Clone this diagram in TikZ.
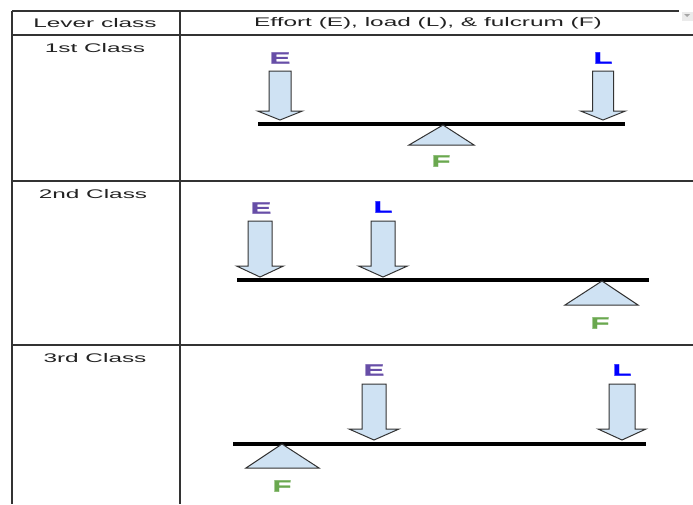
\documentclass[tikz,border=0pt]{standalone}
\usepackage{fontspec}
\newfontfamily\hdrfont{Liberation Sans}[FakeStretch=1.95]
\newfontfamily\lblfont{Liberation Sans}[FakeStretch=1.9,FakeBold=1.5]
\definecolor{effortc}{HTML}{674EA7}
\definecolor{loadc}{HTML}{0000FF}
\definecolor{fulcc}{HTML}{6AA84F}
\definecolor{armfill}{HTML}{CFE2F3}
\definecolor{gridc}{HTML}{333333}
\definecolor{txtc}{HTML}{222222}
\newcommand\levarrow[6]{% x, top, headstart, tip, shaft half, head half
  \draw[forcearrow] ({#1-#5},#2) -- ({#1+#5},#2) -- ({#1+#5},#3) -- ({#1+#6},#3)
    -- (#1,#4) -- ({#1-#6},#3) -- ({#1-#5},#3) -- cycle;}
\begin{document}
\begin{tikzpicture}[x=1pt,y=-1pt,
  gridline/.style={draw=gridc,line width=1.5pt},
  leverbar/.style={draw=black,line width=3.2pt},
  forcearrow/.style={draw=gridc,line width=1pt,fill=armfill,line join=miter},
  fulcrum/.style={draw=gridc,line width=1pt,fill=armfill},
  hdr/.style={inner sep=0pt,text=txtc,font=\hdrfont\fontsize{12.5}{14}\selectfont},
  lbl/.style={inner sep=0pt,font=\lblfont\bfseries\fontsize{16.5}{18}\selectfont},
  elbl/.style={lbl,text=effortc},
  llbl/.style={lbl,text=loadc},
  flbl/.style={lbl,text=fulcc}]
\useasboundingbox (0,0) rectangle (693,504);
% table grid
\draw[gridline] (12,11) -- (679,11);
\draw[gridline] (12,35) -- (693,35);
\draw[gridline] (12,181) -- (693,181);
\draw[gridline] (12,345) -- (693,345);
\draw[gridline] (12,11) -- (12,504);
\draw[gridline] (180,11) -- (180,504);
% small corner widget
\fill[black!8] (682,12) rectangle (693,21);
\fill[black!35] (684,14) -- (690,14) -- (687,17) -- cycle;
% headers
\node[hdr] (h1) at (95,23) {Lever class};
\node[hdr] (h2) at (428,23) {Effort (E), load (L), \& fulcrum (F)};
\node[hdr] (c1) at (95,48) {1st Class};
\node[hdr] (c2) at (93,194) {2nd Class};
\node[hdr] (c3) at (95,358) {3rd Class};
% row 1
\draw[leverbar] (258,124) -- (625,124);
\levarrow{280}{71}{111}{120}{11}{22.5}
\levarrow{603}{71}{111}{120}{10.5}{22.5}
\draw[fulcrum] (443,125) -- (474,145) -- (409,145) -- cycle;
\node[elbl] (e1) at (280,58) {E};
\node[llbl] (l1) at (603,58) {L};
\node[flbl] (f1) at (441,161) {F};
% row 2
\draw[leverbar] (237,280) -- (649,280);
\levarrow{260}{221}{266}{277}{12}{23.5}
\levarrow{383}{221}{266}{277}{12}{24.5}
\draw[fulcrum] (602,281) -- (638,305) -- (565,305) -- cycle;
\node[elbl] (e2) at (261,208) {E};
\node[llbl] (l2) at (383,207) {L};
\node[flbl] (f2) at (600,323) {F};
% row 3
\draw[leverbar] (233,444) -- (646,444);
\levarrow{374}{384}{429}{440}{12}{25}
\levarrow{622}{384}{429}{440}{13}{24}
\draw[fulcrum] (282,444) -- (319,468) -- (246,468) -- cycle;
\node[elbl] (e3) at (374,370) {E};
\node[llbl] (l3) at (622,370) {L};
\node[flbl] (f3) at (282,486) {F};
\end{tikzpicture}
\end{document}
